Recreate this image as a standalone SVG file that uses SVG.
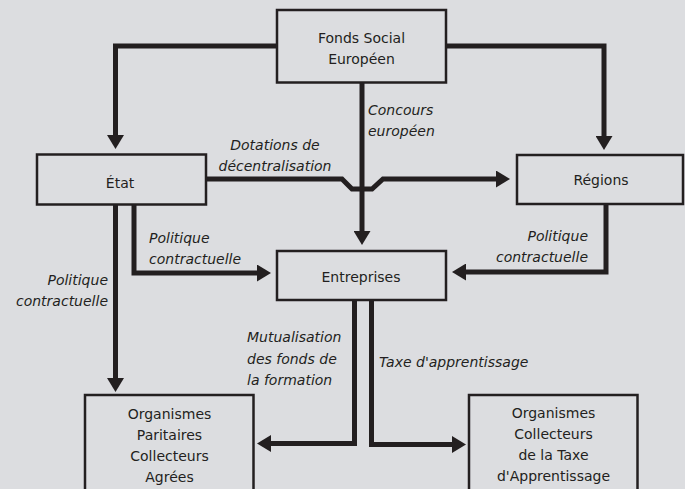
<svg xmlns="http://www.w3.org/2000/svg" width="685" height="489" viewBox="0 0 685 489">
<style>
.box{fill:#dcdde0;stroke:#231f20;stroke-width:2.5}
.lbl{font-family:"DejaVu Sans",sans-serif;font-size:14px;fill:#231f20;text-anchor:middle}
.it{font-family:"DejaVu Sans",sans-serif;font-size:14px;font-style:italic;fill:#231f20}
.c{fill:none;stroke:#231f20;stroke-width:5;stroke-linejoin:miter}
</style>
<defs>
<marker id="ah" viewBox="0 0 14 17" refX="1" refY="8.5" markerWidth="14" markerHeight="17" markerUnits="userSpaceOnUse" orient="auto">
<path d="M0,0 L14,8.5 L0,17 z" fill="#231f20"/>
</marker>
</defs>
<rect width="685" height="489" fill="#dcdde0"/>
<g id="connectors">
<path class="c" d="M277,46 H115.5 V136" marker-end="url(#ah)"/>
<path class="c" d="M446,46 H604 V137" marker-end="url(#ah)"/>
<path class="c" d="M362,83 V232" marker-end="url(#ah)"/>
<path class="c" d="M206,179 H342 L352,189 H372 L383,179 H497" marker-end="url(#ah)"/>
<path class="c" d="M606,204 V272 H465" marker-end="url(#ah)"/>
<path class="c" d="M134,204 V273 H258" marker-end="url(#ah)"/>
<path class="c" d="M115.5,204 V379" marker-end="url(#ah)"/>
<path class="c" d="M354.5,300 V443.5 H270" marker-end="url(#ah)"/>
<path class="c" d="M371.5,300 V444.5 H453" marker-end="url(#ah)"/>
<text class="it" x="368" y="115">Concours</text>
<text class="it" x="368" y="136">européen</text>
<text class="it" x="275" y="150" text-anchor="middle">Dotations de</text>
<text class="it" x="275" y="171" text-anchor="middle">décentralisation</text>
<text class="it" x="149" y="243">Politique</text>
<text class="it" x="149" y="264">contractuelle</text>
<text class="it" x="588" y="241" text-anchor="end">Politique</text>
<text class="it" x="588" y="262" text-anchor="end">contractuelle</text>
<text class="it" x="108" y="285" text-anchor="end">Politique</text>
<text class="it" x="108" y="306" text-anchor="end">contractuelle</text>
<text class="it" x="247" y="342">Mutualisation</text>
<text class="it" x="247" y="363.5">des fonds de</text>
<text class="it" x="247" y="385">la formation</text>
<text class="it" x="379" y="367">Taxe d'apprentissage</text>
</g>
<g id="fonds">
<rect class="box" x="277" y="10" width="169" height="72.5"/>
<text class="lbl" x="361.5" y="43">Fonds Social</text>
<text class="lbl" x="361.5" y="64">Européen</text>
</g>
<g id="etat">
<rect class="box" x="37" y="154.5" width="169" height="50"/>
<text class="lbl" x="120" y="188">État</text>
</g>
<g id="regions">
<rect class="box" x="517" y="155" width="166" height="49"/>
<text class="lbl" x="601" y="185">Régions</text>
</g>
<g id="entreprises">
<rect class="box" x="277" y="251" width="169" height="49"/>
<text class="lbl" x="361" y="282">Entreprises</text>
</g>
<g id="opca">
<rect class="box" x="85" y="395" width="168.5" height="100"/>
<text class="lbl" x="169.5" y="419">Organismes</text>
<text class="lbl" x="169.5" y="440">Paritaires</text>
<text class="lbl" x="169.5" y="461">Collecteurs</text>
<text class="lbl" x="169.5" y="482">Agrées</text>
</g>
<g id="octa">
<rect class="box" x="469" y="395" width="168.5" height="100"/>
<text class="lbl" x="553.5" y="418">Organismes</text>
<text class="lbl" x="553.5" y="439">Collecteurs</text>
<text class="lbl" x="553.5" y="460">de la Taxe</text>
<text class="lbl" x="553.5" y="481">d'Apprentissage</text>
</g>
</svg>
